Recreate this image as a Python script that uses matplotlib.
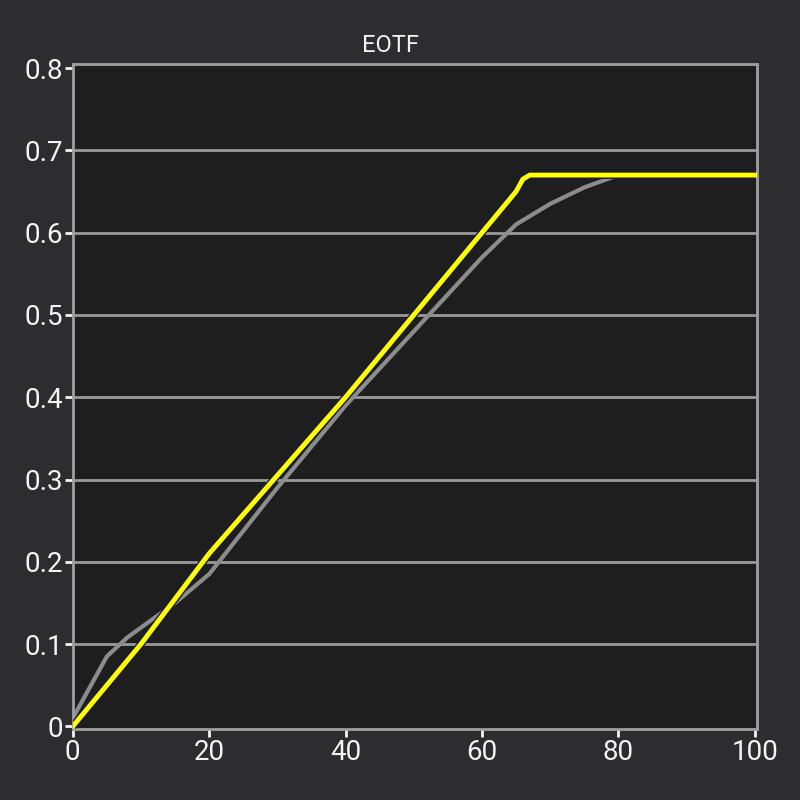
import matplotlib
matplotlib.use('Agg')
import matplotlib.pyplot as plt

# 데이터
target_x = [0, 5, 8, 10, 15, 20, 30, 40, 50, 60, 65, 68, 70, 75, 80, 90, 100]
target_y = [0.01, 0.085, 0.108, 0.12, 0.15, 0.185, 0.29, 0.39, 0.48, 0.57, 0.61, 0.625, 0.635, 0.655, 0.67, 0.67, 0.67]

measured_x = [0, 5, 10, 15, 20, 30, 40, 50, 55, 60, 65, 66, 67, 80, 100]
measured_y = [0.0, 0.05, 0.1, 0.155, 0.21, 0.305, 0.40, 0.50, 0.55, 0.60, 0.65, 0.665, 0.67, 0.67, 0.67]

x_ticks = [0, 20, 40, 60, 80, 100]
y_ticks = [0, 0.1, 0.2, 0.3, 0.4, 0.5, 0.6, 0.7, 0.8]
y_labels = ['0', '0.1', '0.2', '0.3', '0.4', '0.5', '0.6', '0.7', '0.8']

plt.rcParams['font.family'] = ['Roboto', 'DejaVu Sans']

fig = plt.figure(figsize=(8, 8), dpi=100, facecolor='#2d2d2f')
ax = fig.add_axes([0.091, 0.089, 0.855, 0.831])
ax.set_facecolor('#1e1e1f')

# 그리드
for y in y_ticks[1:-1]:
    ax.axhline(y, color='#9a9a9a', linewidth=2, zorder=1)

ax.plot(target_x, target_y, color='#8c8c8c', linewidth=3, zorder=2)
ax.plot(measured_x, measured_y, color='#1a1a40', linewidth=5.5, zorder=3, solid_capstyle='butt')
ax.plot(measured_x, measured_y, color='#ffff00', linewidth=3.5, zorder=4)

ax.set_xlim(0, 100.3)
ax.set_ylim(-0.003, 0.805)
ax.set_xticks(x_ticks)
ax.set_yticks(y_ticks)
ax.set_yticklabels(y_labels)

for s in ax.spines.values():
    s.set_color('#a0a0a0')
    s.set_linewidth(2)

ax.tick_params(colors='#f4f4f4', labelsize=20, length=6, width=2, pad=1)
ax.tick_params(axis='y', direction='out')
ax.tick_params(axis='x', direction='out')

# 제목 (축 중앙보다 약간 왼쪽)
fig.text(391 / 800, 1 - 45 / 800, 'EOTF', color='#f4f4f4', fontsize=17,
         ha='center', va='center')

plt.savefig('out.png', dpi=100, facecolor=fig.get_facecolor())
